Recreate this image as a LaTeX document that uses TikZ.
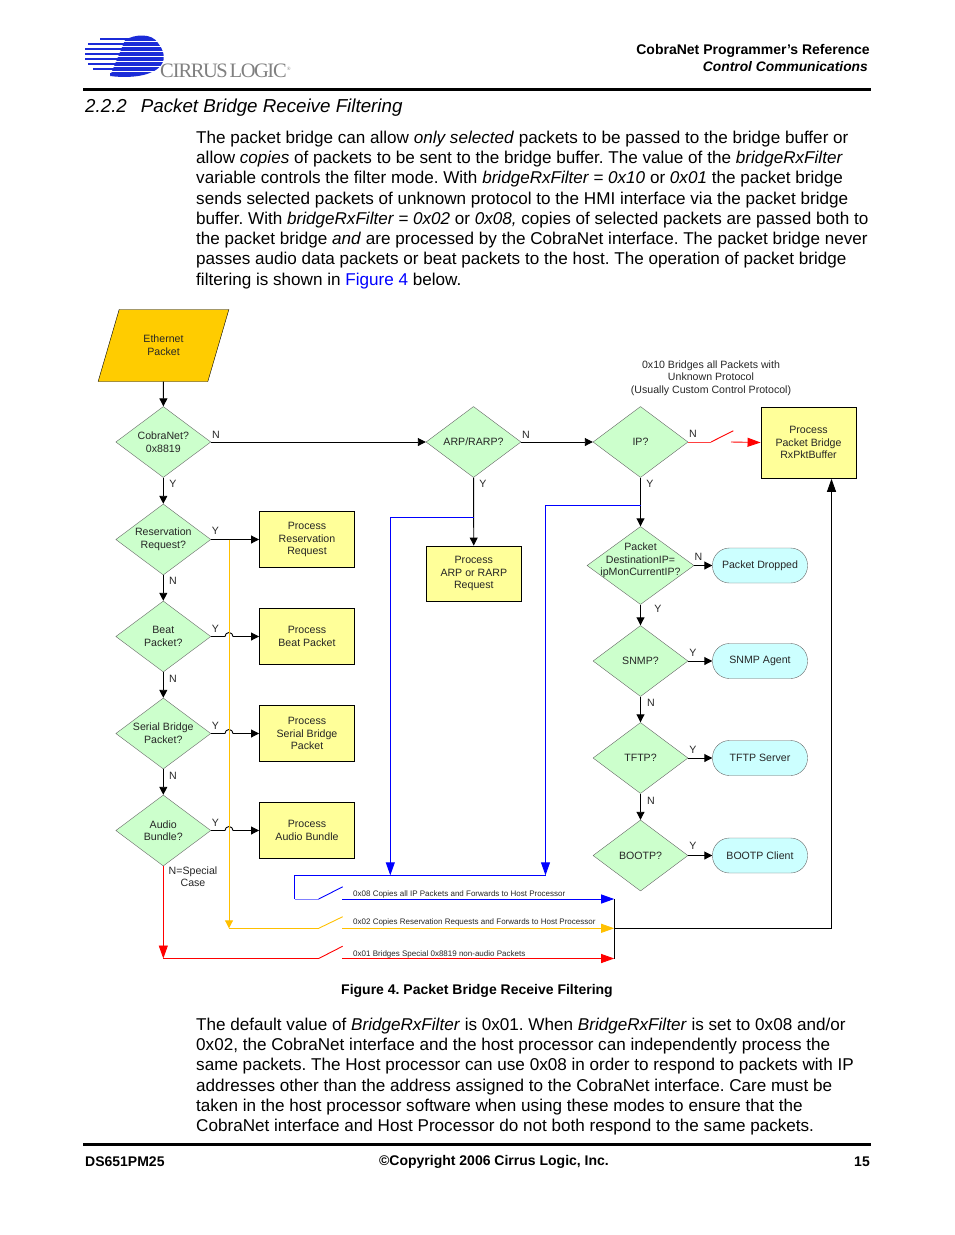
\documentclass[tikz,border=0pt]{standalone}
\usepackage{fontspec}
\setmainfont{Liberation Sans}
\newfontfamily\logofont{Liberation Serif}
\usepackage{xcolor}
\usetikzlibrary{shapes.geometric, arrows.meta}

\definecolor{decgreen}{HTML}{CCFFCC}
\definecolor{boxyellow}{HTML}{FFFF99}
\definecolor{endcyan}{HTML}{CCFFFF}
\definecolor{startorange}{HTML}{FFCC00}
\definecolor{sworange}{HTML}{FFC000}
\definecolor{logoblue}{HTML}{1B2BD8}

\tikzset{
	chart/.style={font=\fontsize{10.6}{12.6}\selectfont, align=center, text=black!85},
	decision/.style={chart, shape=diamond, draw=black!60, fill=decgreen, inner sep=0pt,
		aspect=1.33, minimum width=95pt, minimum height=71pt},
	process/.style={chart, shape=rectangle, draw=black, line width=0.9pt, fill=boxyellow,
		minimum width=95pt, minimum height=56pt, inner sep=0pt},
	terminal/.style={chart, shape=rectangle, rounded corners=17pt, draw=black!60, fill=endcyan,
		minimum width=95pt, minimum height=35pt, inner sep=0pt},
	tag/.style={chart, inner sep=0pt},
	note/.style={font=\fontsize{8}{9}\selectfont, text=black!85, anchor=west, inner sep=0pt},
	flow/.style={draw=black, line width=0.9pt, -{Triangle[length=8pt,width=8pt]}},
	bigflow/.style={flow, -{Triangle[length=13pt,width=9pt]}},
	wire/.style={line width=0.9pt},
	pagetext/.style={font=\fontsize{17.1}{20.25}\selectfont, align=left, anchor=north west, inner sep=0pt},
	foot/.style={font=\bfseries\fontsize{14}{16}\selectfont, inner sep=0pt}
}

% Y branch that hops over the orange line
\newcommand{\drawhop}[2]{
	\draw[flow] (#1.east) -- ([xshift=-4pt]#1.east -| orangetop) arc[start angle=180, end angle=360, radius=4]
		-- (#2.west);
}
% switch: lead-in line ending in the open contact
\newcommand{\drawcontact}[3]{
	\draw[wire, #1] (#2) -- (#3);
}

\begin{document}
\frenchspacing
\begin{tikzpicture}[x=1pt, y=-1pt]
	\useasboundingbox (0,0) rectangle (954,1235);

	%% page header
	% logo
	\fill[logoblue] (125,40) .. controls (135,34) and (152,33) .. (158,43)
		.. controls (167,54) and (166,66) .. (152,72)
		.. controls (142,77) and (125,78) .. (110,76) -- cycle;
	\foreach \yy/\xx in {39/100, 44/88, 49/85, 54/85, 59/85, 64/88, 69/93, 74/110}
		\draw[logoblue, line width=2.6pt] (\xx,\yy) -- (130,\yy);
	\foreach \yy/\xx in {41.5/96, 46.5/84, 51.5/84, 56.5/84, 61.5/84, 66.5/86, 71.5/90}
		\draw[white, line width=1pt] (\xx,\yy) -- (165,\yy);
	\node[font=\logofont\fontsize{20.5}{22}\selectfont, text=black!50, anchor=west, inner sep=0pt] (logotext)
		at (160,71) {C\kern-1pt I\kern-1pt R\kern-1.5pt R\kern-1.5pt U\kern-1.5pt S\kern2pt L\kern-1.5pt O\kern-1.5pt G\kern-1.5pt I\kern-1pt C\textsuperscript{\tiny ®}};

	\node[foot, anchor=east] (headone) at (870,50.5) {CobraNet Programmer’s Reference};
	\node[foot, anchor=east, font=\bfseries\itshape\fontsize{13.8}{16}\selectfont] (headtwo) at (868,66.5) {Control Communications};
	\draw[line width=3pt] (83,89.5) -- (871,89.5);

	% section title
	\node[font=\itshape\fontsize{18.75}{22}\selectfont, anchor=west, inner sep=0pt] (section)
		at (85,107.5) {2.2.2\hspace{14pt}Packet Bridge Receive Filtering};

	% upper text
	\node[pagetext] (upper) at (196,130.9) {The packet bridge can allow \textit{only selected} packets to be passed to the bridge buffer or\\
		allow \textit{copies} of packets to be sent to the bridge buffer. The value of the \textit{bridgeRxFilter}\\
		variable controls the filter mode. With \textit{bridgeRxFilter = 0x10} or \textit{0x01} the packet bridge\\
		sends selected packets of unknown protocol to the HMI interface via the packet bridge\\
		buffer. With \textit{bridgeRxFilter = 0x02} or \textit{0x08,} copies of selected packets are passed both to\\
		the packet bridge \textit{and} are processed by the CobraNet interface. The packet bridge never\\
		passes audio data packets or beat packets to the host. The operation of packet bridge\\
		filtering is shown in \textcolor{blue}{Figure 4} below.};

	%% flow chart
	% left column
	\node[chart, shape=trapezium, trapezium left angle=65, trapezium right angle=115, trapezium stretches=true,
		draw=black, fill=startorange, minimum width=131pt, minimum height=72pt, inner sep=0pt] (ethernet)
		at (163.5,345.5) {Ethernet\\Packet};
	\node[decision] (cobranet) at (163.3,442) {CobraNet?\\0x8819};
	\node[decision] (reservation) at (163.3,539.5) {Reservation\\Request?};
	\node[decision] (beat) at (163.3,636.5) {Beat\\Packet?};
	\node[decision] (serial) at (163.3,733.5) {Serial Bridge\\Packet?};
	\node[decision] (audio) at (163.3,830.5) {Audio\\Bundle?};

	\node[process] (reservationbox) at (307,539.5) {Process\\Reservation\\Request};
	\node[process] (beatbox) at (307,636.5) {Process\\Beat Packet};
	\node[process] (serialbox) at (307,733.5) {Process\\Serial Bridge\\Packet};
	\node[process] (audiobox) at (307,830.5) {Process\\Audio Bundle};

	% middle column
	\node[decision] (arp) at (473.5,442) {ARP/RARP?};
	\node[process, minimum height=55pt] (arpbox) at (473.8,573.5) {Process\\ARP or RARP\\Request};

	% right column
	\node[decision] (ip) at (640.5,442) {IP?};
	\node[decision, minimum width=107pt, minimum height=78pt, aspect=1.37, inner sep=-12pt] (dest)
		at (640.5,565.5) {Packet\\DestinationIP=\\ipMonCurrentIP?\\\mbox{}};
	\node[decision] (snmp) at (640.5,661) {SNMP?};
	\node[decision] (tftp) at (640.5,758) {TFTP?};
	\node[decision] (bootp) at (640.5,855.5) {BOOTP?};

	\node[process, minimum height=71pt] (bufferbox) at (808.5,442.5) {Process\\Packet Bridge\\RxPktBuffer};
	\node[terminal] (dropped) at (760,565.5) {Packet Dropped};
	\node[terminal] (snmpagent) at (760,661) {SNMP Agent};
	\node[terminal] (tftpserver) at (760,758) {TFTP Server};
	\node[terminal] (bootpclient) at (760,855.5) {BOOTP Client};

	\node[chart] (unknownnote) at (711,378) {0x10 Bridges all Packets with\\Unknown Protocol\\(Usually Custom Control Protocol)};

	% helper points
	\coordinate (orangetop) at (229,539.5);
	\coordinate (orangecorner) at (229,928.3);
	\coordinate (redcorner) at (163.3,958.5);
	\coordinate (bluearp) at (473.5,517);
	\coordinate (blueip) at (640.5,505);
	\coordinate (blueleftdown) at (390.3,875.3);
	\coordinate (bluerightdown) at (545.5,875.3);
	\coordinate (blueleft) at (294.5,875.3);
	\coordinate (bluebreak) at (318.7,899);
	\coordinate (blueopen) at (342.7,886.8);
	\coordinate (blueout) at (342,899);
	\coordinate (bluebus) at (614.2,899);
	\coordinate (orangebreak) at (318.7,928.3);
	\coordinate (orangeopen) at (342.7,916.7);
	\coordinate (orangeout) at (342,928.3);
	\coordinate (orangebus) at (614.2,928.3);
	\coordinate (redbreak) at (318.7,958.5);
	\coordinate (redopen) at (342.7,946.2);
	\coordinate (redout) at (342,958.5);
	\coordinate (redbus) at (614.2,958.5);
	\coordinate (buscorner) at (831.5,928.3);
	\coordinate (busup) at (831.5,478.8);
	\coordinate (ipbreak) at (711,442);
	\coordinate (ipopen) at (733.3,430.8);
	\coordinate (ipout) at (731,442);

	% black connectors
	\draw[flow] (ethernet) -- (cobranet);
	\draw[flow] (cobranet) -- (reservation);
	\draw[flow] (reservation) -- (beat);
	\draw[flow] (beat) -- (serial);
	\draw[flow] (serial) -- (audio);
	\draw[flow] (cobranet) -- (arp);
	\draw[flow] (arp) -- (ip);
	\draw[flow] (arp) -- (arpbox);
	\draw[flow] (ip) -- (dest);
	\draw[flow] (dest) -- (snmp);
	\draw[flow] (snmp) -- (tftp);
	\draw[flow] (tftp) -- (bootp);
	\draw[flow] (dest) -- (dropped);
	\draw[flow] (snmp) -- (snmpagent);
	\draw[flow] (tftp) -- (tftpserver);
	\draw[flow] (bootp) -- (bootpclient);
	\draw[flow] (reservation) -- (reservationbox);
	\drawhop{beat}{beatbox}
	\drawhop{serial}{serialbox}
	\drawhop{audio}{audiobox}

	% switch lines
	\draw[wire, red!75!white] (ip.east) -- (ipbreak);
	\draw[wire, red] (ipbreak) -- (ipopen);
	\draw[bigflow, red] (ipout) -- (bufferbox.west);

	\draw[bigflow, blue] (bluearp) -- (bluearp -| blueleftdown) -- (blueleftdown);
	\draw[bigflow, blue] (blueip) -- (blueip -| bluerightdown) -- (bluerightdown);
	\draw[wire, blue] (blueleft) -- (bluerightdown);
	\draw[wire, blue] (blueleft) -- (bluebreak -| blueleft);
	\draw[wire, blue!50] (bluebreak -| blueleft) -- (bluebreak);
	\drawcontact{blue}{bluebreak}{blueopen}
	\draw[bigflow, blue] (blueout) -- (bluebus);

	\draw[flow, sworange] (orangetop) -- (orangecorner);
	\draw[wire, sworange] (orangecorner) -- (orangebreak);
	\drawcontact{sworange}{orangebreak}{orangeopen}
	\draw[bigflow, sworange] (orangeout) -- (orangebus);

	\draw[bigflow, red] (audio) -- (redcorner);
	\draw[wire, red] (redcorner) -- (redbreak);
	\drawcontact{red}{redbreak}{redopen}
	\draw[bigflow, red] (redout) -- (redbus);

	% host bus
	\draw[wire] (bluebus) -- (redbus);
	\draw[bigflow, draw=black] (orangebus) -- (buscorner) -- (busup);

	% branch letters
	\node[tag] (cobraN) at (216,435) {N};
	\node[tag] (cobraY) at (173,484) {Y};
	\node[tag] (reservationY) at (215.5,530.5) {Y};
	\node[tag] (reservationN) at (173,580.5) {N};
	\node[tag] (beatY) at (215.5,628.5) {Y};
	\node[tag] (beatN) at (173,678.5) {N};
	\node[tag] (serialY) at (215.5,726) {Y};
	\node[tag] (serialN) at (173,776) {N};
	\node[tag] (audioY) at (215.5,822.5) {Y};
	\node[tag] (audioN) at (193,876.5) {N=Special\\Case};
	\node[tag] (arpN) at (526,435) {N};
	\node[tag] (arpY) at (483,484) {Y};
	\node[tag] (ipN) at (693,433.5) {N};
	\node[tag] (ipY) at (650,484) {Y};
	\node[tag] (destN) at (698.5,556.5) {N};
	\node[tag] (destY) at (658,609) {Y};
	\node[tag] (snmpY) at (693,652.5) {Y};
	\node[tag] (snmpN) at (651,703) {N};
	\node[tag] (tftpY) at (693,750) {Y};
	\node[tag] (tftpN) at (651,801) {N};
	\node[tag] (bootpY) at (693,846) {Y};

	% filter notes
	\node[note] (noteeight) at (353,894.3) {0x08 Copies all IP Packets and Forwards to Host Processor};
	\node[note] (notetwo) at (353,922.3) {0x02 Copies Reservation Requests and Forwards to Host Processor};
	\node[note] (noteone) at (353,954.3) {0x01 Bridges Special 0x8819 non-audio Packets};

	%% below the chart
	\node[foot] (caption) at (477,990.5) {Figure 4. Packet Bridge Receive Filtering};

	\node[pagetext] (lower) at (196,1017.7) {The default value of \textit{BridgeRxFilter} is 0x01. When \textit{BridgeRxFilter} is set to 0x08 and/or\\
		0x02, the CobraNet interface and the host processor can independently process the\\
		same packets. The Host processor can use 0x08 in order to respond to packets with IP\\
		addresses other than the address assigned to the CobraNet interface. Care must be\\
		taken in the host processor software when using these modes to ensure that the\\
		CobraNet interface and Host Processor do not both respond to the same packets.};

	%% page footer
	\draw[line width=3pt] (83,1144.7) -- (871,1144.7);
	\node[foot, anchor=west] (docid) at (85,1162) {DS651PM25};
	\node[foot] (copyright) at (494,1162) {©Copyright 2006 Cirrus Logic, Inc.};
	\node[foot, anchor=east] (pagenum) at (870,1162) {15};
\end{tikzpicture}
\end{document}
